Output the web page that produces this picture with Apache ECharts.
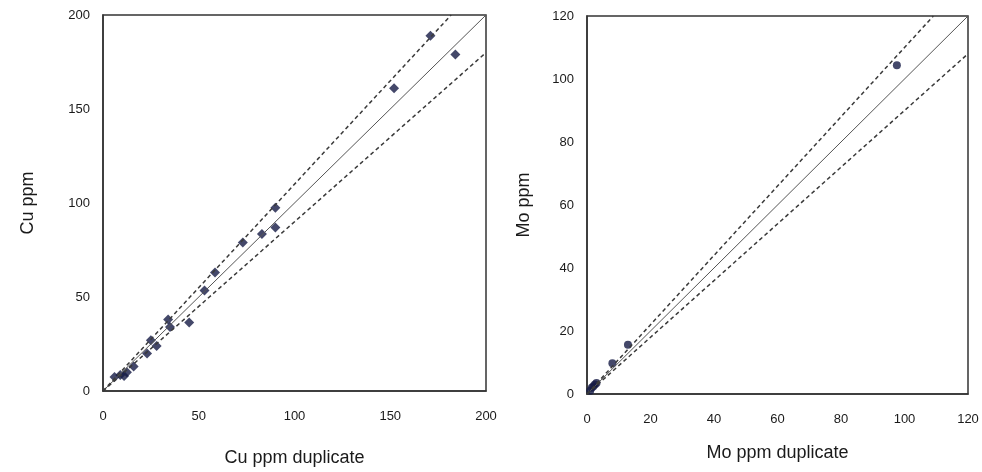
<!DOCTYPE html>
<html>
<head>
<meta charset="utf-8">
<script src="https://cdn.jsdelivr.net/npm/echarts@6/dist/echarts.min.js"></script>
<style>html,body{margin:0;padding:0;background:#fff}#c{width:982px;height:472px}</style>
</head>
<body>
<div id="c"></div>
<script>
// Cu duplicates: [duplicate, original]
const cuData = [[6,7.5],[9,8.5],[11,8],[12.5,10],[16,13],[23,20],[25,27],[28,24],[34,38],[35,34],[45,36.5],[53,53.5],[58.5,63],[73,79],[83,83.5],[90,87],[90,97.5],[152,161],[171,189],[184,179]];
// Mo duplicates: [duplicate, original]
const moData = [[1,1],[1.5,2],[2,2.5],[2.5,3],[3,3.5],[8,9.8],[12.9,15.6],[97.6,104.4]];
const cuTicks = [0,50,100,150,200];
const moTicks = [0,20,40,60,80,100,120];
const ratios = {equal:1, upper:1.1, lower:0.9};

const cuMax = 200, moMax = 120;
function refLine(max, r){
  const xEnd = Math.min(max, max / r);
  return [[0,0],[xEnd, xEnd * r]];
}

const font = 'Liberation Sans, Arial, sans-serif';
function axis(name, max, ticks, gridIndex, isY, gap){
  return {
    type:'value', gridIndex, min:0, max, interval: ticks[1]-ticks[0],
    name, nameLocation:'middle',
    nameGap: gap,
    nameTextStyle:{fontFamily:font, fontSize:18, color:'#1a1a1a'},
    axisLine:{show:true, lineStyle:{color:'#333', width:1.5}},
    axisTick:{show:false},
    splitLine:{show:false},
    axisLabel:{fontFamily:font, fontSize:13, color:'#1a1a1a', margin: isY ? 13 : 19}
  };
}
const lineColor = '#3a3a3a';
function lines(max, xi, yi){
  return [
    {type:'line', xAxisIndex:xi, yAxisIndex:yi, data:refLine(max, ratios.equal), symbol:'none', silent:true, clip:true, lineStyle:{color:'#555', width:1}},
    {type:'line', xAxisIndex:xi, yAxisIndex:yi, data:refLine(max, ratios.upper), symbol:'none', silent:true, clip:true, lineStyle:{color:lineColor, width:1.5, type:[4,3]}},
    {type:'line', xAxisIndex:xi, yAxisIndex:yi, data:refLine(max, ratios.lower), symbol:'none', silent:true, clip:true, lineStyle:{color:lineColor, width:1.5, type:[4,3]}}
  ];
}
const chart = echarts.init(document.getElementById('c'), null, {renderer:'canvas'});
chart.setOption({
  animation:false,
  backgroundColor:'#fff',
  grid:[
    {left:103, right:496, top:15, bottom:79, show:true, borderColor:'#333', borderWidth:1.5, backgroundColor:'transparent'},
    {left:587, right:14, top:16, bottom:78, show:true, borderColor:'#333', borderWidth:1.5, backgroundColor:'transparent'}
  ],
  xAxis:[ axis('Cu ppm duplicate', cuMax, cuTicks, 0, false, 58), axis('Mo ppm duplicate', moMax, moTicks, 1, false, 50) ],
  yAxis:[ axis('Cu ppm', cuMax, cuTicks, 0, true, 66), axis('Mo ppm', moMax, moTicks, 1, true, 54) ],
  series:[
    ...lines(cuMax, 0, 0),
    ...lines(moMax, 1, 1),
    {type:'scatter', xAxisIndex:0, yAxisIndex:0, data:cuData, symbol:'diamond', symbolSize:10, itemStyle:{color:'#151a45'}},
    {type:'scatter', xAxisIndex:1, yAxisIndex:1, data:moData, symbol:'circle', symbolSize:8, itemStyle:{color:'#151a45'}}
  ]
});
</script>
</body>
</html>
